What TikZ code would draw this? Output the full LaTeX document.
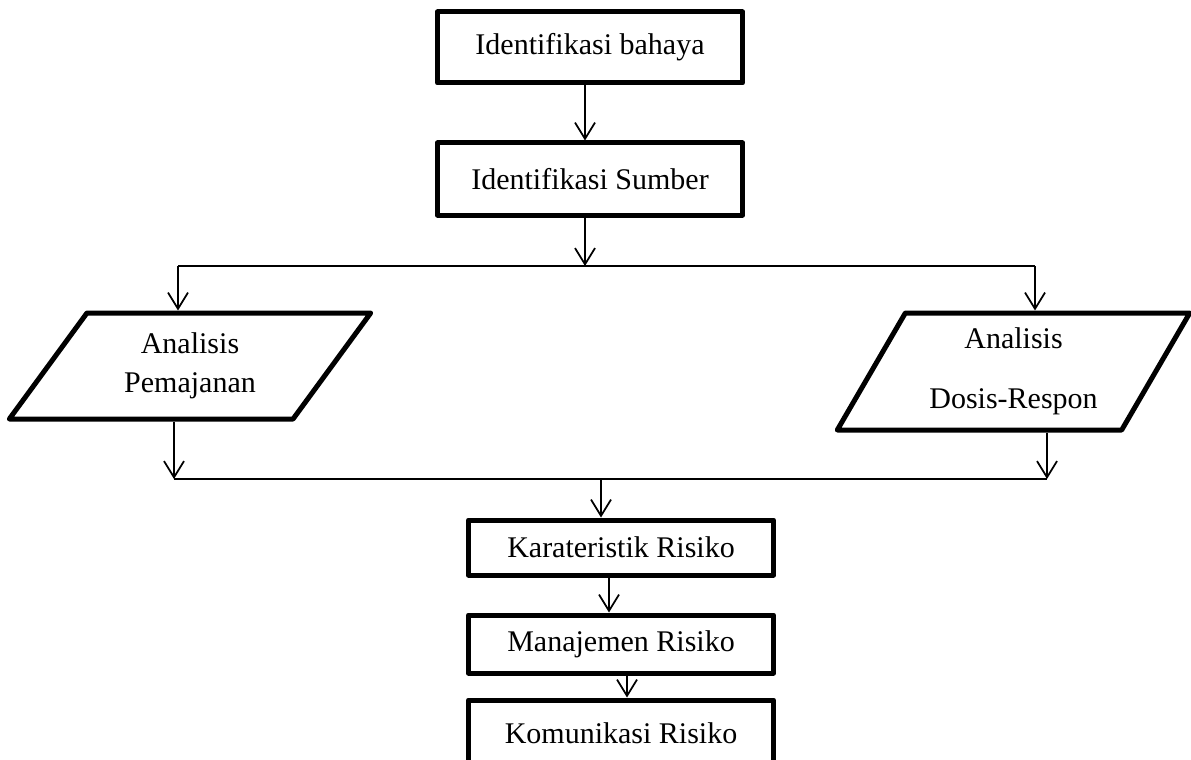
\documentclass[12pt,tikz,border=0pt]{standalone}
\usepackage{fontspec}
\setmainfont{Liberation Serif}
\usetikzlibrary{arrows.meta,shapes.geometric}
\begin{document}
\begin{tikzpicture}[x=0.4pt,y=-0.4pt,
    box/.style={draw,line width=2pt,line join=round,minimum width=122pt,inner sep=0pt},
    para/.style={shape=trapezium,draw,line width=2pt,line join=round,trapezium stretches=true,align=center,inner sep=2pt},
    arr/.style={line width=0.7pt,-{Straight Barb[length=6.5pt,width=8pt]}},
    con/.style={line width=0.7pt}]
  \useasboundingbox (0,0) rectangle (1191,759);
  % boxes
  \node[box,minimum height=28.4pt] (bahaya) at (590,47.5) {Identifikasi bahaya};
  \node[box,minimum height=28.8pt] (sumber) at (590,179) {Identifikasi Sumber};
  \node[para,minimum width=145.6pt,minimum height=42.4pt,
        trapezium left angle=55,trapezium right angle=125] (pajan) at (190,366)
        {Analisis\\[1.1pt]Pemajanan};
  \node[para,minimum width=141.2pt,minimum height=46.8pt,
        trapezium left angle=60,trapezium right angle=120] (dosis) at (1013.5,371.5)
        {Analisis\\[9.5pt]Dosis-Respon};
  \node[box,minimum height=22pt] (karak) at (621,547.5) {Karateristik Risiko};
  \node[box,minimum height=23.2pt] (manaj) at (621,644) {Manajemen Risiko};
  \node[box,minimum height=26.4pt] (komun) at (621,733) {Komunikasi Risiko};
  % junctions
  \coordinate (fork) at (585,266);
  \coordinate (forkL) at (178,266);
  \coordinate (forkR) at (1035,266);
  \coordinate (join) at (601,479);
  \coordinate (joinL) at (174,479);
  \coordinate (joinR) at (1047,479);
  % connectors
  \draw[arr] (bahaya.south -| fork) -- (sumber.north -| fork);
  \draw[arr] (sumber.south -| fork) -- (fork);
  \draw[con] (forkL) -- (forkR);
  \draw[arr] (forkL) -- (forkL |- pajan.north);
  \draw[arr] (forkR) -- (forkR |- dosis.north);
  \draw[arr] (pajan.south -| joinL) -- (joinL);
  \draw[arr] (dosis.south -| joinR) -- (joinR);
  \draw[con] (joinL) -- (joinR);
  \draw[arr] (join) -- (join |- karak.north);
  \draw[arr] ([xshift=-4.8pt]karak.south) -- ([xshift=-4.8pt]manaj.north);
  \draw[arr] ([xshift=2.4pt]manaj.south) -- ([xshift=2.4pt]komun.north);
\end{tikzpicture}
\end{document}
